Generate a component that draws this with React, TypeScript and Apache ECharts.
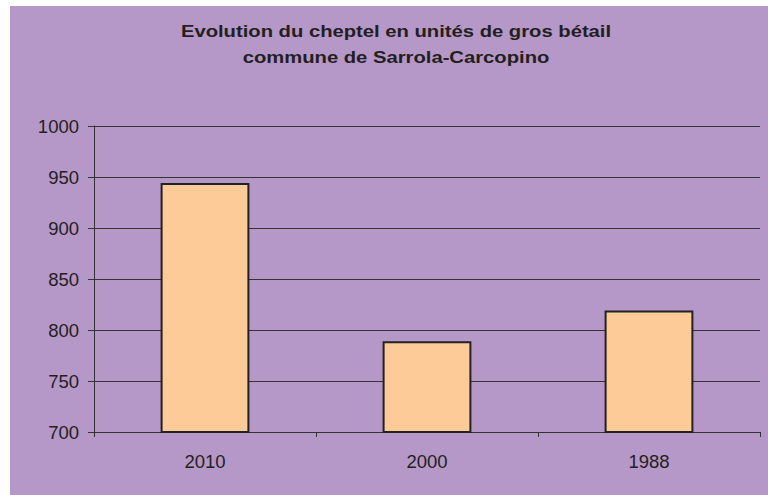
import React, { useEffect, useRef } from "react";
import * as echarts from "echarts";

const titleLines = ["Evolution du cheptel en unités de gros bétail", "commune de Sarrola-Carcopino"];
const categories = ["2010", "2000", "1988"];
const values = [944, 789, 819];
const yMin = 700;
const yMax = 1000;
const yStep = 50;

export default function App() {
  const ref = useRef<HTMLDivElement>(null);
  useEffect(() => {
    if (!ref.current) return;
    const chart = echarts.init(ref.current, null, { renderer: "svg" });
    chart.setOption({
      animation: false,
      backgroundColor: "#ffffff",
      textStyle: { fontFamily: "Liberation Sans, Arial, sans-serif" },
      graphic: [
        {
          type: "rect",
          silent: true,
          z: -10,
          shape: { x: 10, y: 6, width: 758, height: 489 },
          style: { fill: "#B597C8" },
        },
        {
          type: "text",
          x: 396,
          y: 18,
          scaleX: 1.19,
          style: {
            text: titleLines.join("\n"),
            fill: "#231F20",
            font: "bold 17px 'Liberation Sans', Arial, sans-serif",
            lineHeight: 26,
            align: "center",
            verticalAlign: "top",
          },
        },
      ],
      grid: { left: 94, right: 8, top: 126, bottom: 63, containLabel: false },
      xAxis: {
        type: "category",
        data: categories,
        boundaryGap: true,
        axisLine: { show: true, lineStyle: { color: "#333", width: 1 } },
        axisTick: { show: true, alignWithLabel: false, length: 5, lineStyle: { color: "#333" } },
        axisLabel: {
          color: "#231F20",
          fontSize: 18.5,
          margin: 20,
          fontFamily: "Liberation Sans, Arial, sans-serif",
        },
        splitLine: { show: false },
      },
      yAxis: {
        type: "value",
        min: yMin,
        max: yMax,
        interval: yStep,
        axisLine: { show: true, lineStyle: { color: "#333", width: 1 } },
        axisTick: { show: true, length: 6, lineStyle: { color: "#333" } },
        axisLabel: {
          color: "#231F20",
          fontSize: 18.5,
          margin: 15,
          formatter: (v: number) => String(v),
          fontFamily: "Liberation Sans, Arial, sans-serif",
        },
        splitLine: { show: true, lineStyle: { color: "#333", width: 1 } },
      },
      series: [
        {
          type: "bar",
          data: values,
          barWidth: "40%",
          itemStyle: { color: "#FDCB98", borderColor: "#222", borderWidth: 2 },
        },
      ],
    });
    return () => chart.dispose();
  }, []);
  return (
    <div
      ref={ref}
      style={{ position: "fixed", left: 0, top: 0, width: 768, height: 495 }}
    />
  );
}
